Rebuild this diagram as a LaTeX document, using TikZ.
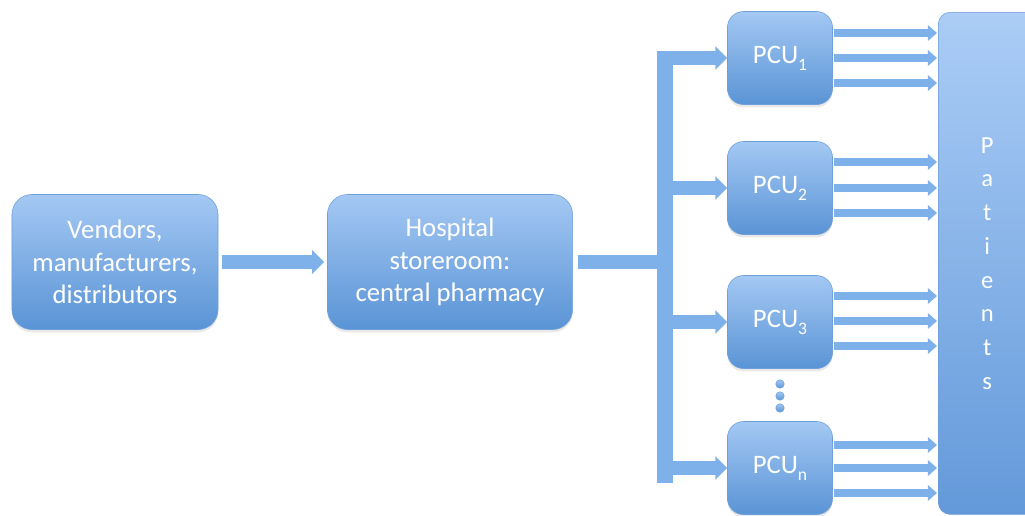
\documentclass[tikz,border=0pt]{standalone}
\usepackage{fontspec}
\setmainfont{Carlito}
\usetikzlibrary{arrows.meta,calc,shadows}
\definecolor{pcTop}{HTML}{A4C8F3}
\definecolor{pcBot}{HTML}{5A94D6}
\definecolor{pcLine}{HTML}{6E9FDA}
\definecolor{ptTop}{HTML}{ABCDF6}
\definecolor{ptBot}{HTML}{6399DA}
\definecolor{pcArrow}{HTML}{7EB0EA}
\newcommand{\pcsub}[1]{\raisebox{-0.55ex}{\fontsize{12.5}{12.5}\selectfont #1}}
\tikzset{
  pcbox/.style={
    rounded corners=#1,
    draw=pcLine,
    thin,
    top color=pcTop,
    bottom color=pcBot,
    text=white,
    align=center,
    font=\fontsize{19}{23}\selectfont,
    drop shadow={opacity=0.18, shadow xshift=0pt, shadow yshift=-2pt}
  },
  patbox/.style={
    rounded corners=0.3cm,
    draw=pcLine,
    thin,
    top color=ptTop,
    bottom color=ptBot,
    text=white,
    align=center,
    font=\fontsize{17.5}{24}\selectfont
  },
  pcdot/.style={circle, draw=pcLine, thin, top color=pcTop, bottom color=pcBot, minimum size=6pt, inner sep=0pt},
  bigarrow/.style={-{Triangle[length=8.5pt,width=16.5pt]}, line width=10pt, draw=pcArrow},
  outarrow/.style={-{Triangle[length=6.5pt,width=11pt]}, line width=5.7pt, draw=pcArrow},
  busline/.style={line width=#1, draw=pcArrow}
}
\begin{document}
\begin{tikzpicture}[x=0.025cm, y=-0.025cm]
  \clip (0,0) rectangle (1025,515);
  \node[pcbox=0.5cm, minimum width=5.15cm, minimum height=3.375cm] (vend) at (115,262) {Vendors,\\manufacturers,\\distributors};
  \node[pcbox=0.5cm, minimum width=6.125cm, minimum height=3.375cm] (hosp) at (450,262) {Hospital\\storeroom:\\central pharmacy};

  \node[pcbox=0.4cm, minimum width=2.625cm, minimum height=2.325cm] (p1) at (780,58) {PCU\pcsub{1}};
  \node[pcbox=0.4cm, minimum width=2.625cm, minimum height=2.325cm] (p2) at (780,188) {PCU\pcsub{2}};
  \node[pcbox=0.4cm, minimum width=2.625cm, minimum height=2.325cm] (p3) at (780,322) {PCU\pcsub{3}};
  \node[pcbox=0.4cm, minimum width=2.625cm, minimum height=2.325cm] (pn) at (780,468) {PCU\pcsub{n}};
  \node[pcdot] (d1) at (780,384) {};
  \node[pcdot] (d2) at (780,396) {};
  \node[pcdot] (d3) at (780,408) {};

  \node[patbox, minimum width=2.45cm, minimum height=12.55cm, anchor=north west] (pat) at (938,12) {P\\a\\t\\i\\e\\n\\t\\s};

  \coordinate (busT) at (665,51);
  \coordinate (busB) at (665,483);

  \draw[bigarrow] ($(vend.east)+(4,0)$) -- ($(hosp.west)+(-3,0)$);
  \draw[busline=10pt] ($(hosp.east)+(5,0)$) -- (busT |- hosp.east);
  \draw[bigarrow] (busT |- p1.west) -- (p1.west);
  \draw[bigarrow] (busT |- p2.west) -- (p2.west);
  \draw[bigarrow] (busT |- p3.west) -- (p3.west);
  \draw[bigarrow] (busT |- pn.west) -- (pn.west);
  \draw[busline=11.4pt] (busT) -- (busB);

  \draw[outarrow] ($(p1.east)+(1,-25)$) -- ($(pat.west |- p1.east)+(-1,-25)$);
  \draw[outarrow] ($(p1.east)+(1,0)$) -- ($(pat.west |- p1.east)+(-1,0)$);
  \draw[outarrow] ($(p1.east)+(1,25)$) -- ($(pat.west |- p1.east)+(-1,25)$);
  \draw[outarrow] ($(p2.east)+(1,-26)$) -- ($(pat.west |- p2.east)+(-1,-26)$);
  \draw[outarrow] ($(p2.east)+(1,0)$) -- ($(pat.west |- p2.east)+(-1,0)$);
  \draw[outarrow] ($(p2.east)+(1,25)$) -- ($(pat.west |- p2.east)+(-1,25)$);
  \draw[outarrow] ($(p3.east)+(1,-26)$) -- ($(pat.west |- p3.east)+(-1,-26)$);
  \draw[outarrow] ($(p3.east)+(1,-1)$) -- ($(pat.west |- p3.east)+(-1,-1)$);
  \draw[outarrow] ($(p3.east)+(1,24)$) -- ($(pat.west |- p3.east)+(-1,24)$);
  \draw[outarrow] ($(pn.east)+(1,-23)$) -- ($(pat.west |- pn.east)+(-1,-23)$);
  \draw[outarrow] ($(pn.east)+(1,0)$) -- ($(pat.west |- pn.east)+(-1,0)$);
  \draw[outarrow] ($(pn.east)+(1,25)$) -- ($(pat.west |- pn.east)+(-1,25)$);
\end{tikzpicture}
\end{document}
